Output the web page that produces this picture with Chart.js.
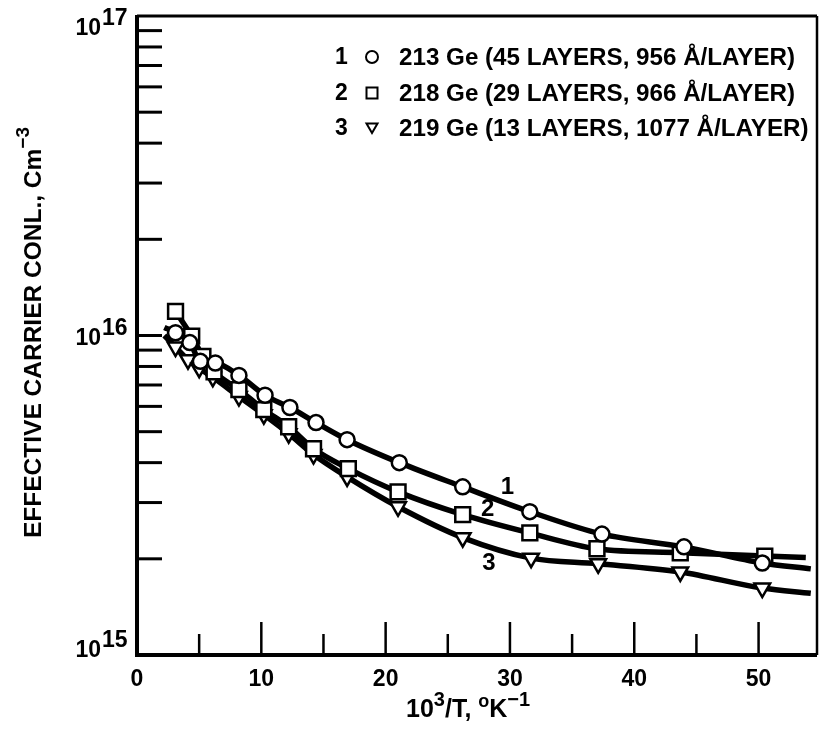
<!DOCTYPE html>
<html>
<head>
<meta charset="utf-8">
<script src="https://cdn.jsdelivr.net/npm/chart.js@4.4.1/dist/chart.umd.min.js"></script>
<style>
  html, body { margin: 0; padding: 0; background: #fff; }
  #wrap { position: relative; width: 830px; height: 736px; }
</style>
</head>
<body>
<div id="wrap"><canvas id="carrierChart" width="830" height="736"></canvas></div>
<script>
// 10^3/T (K^-1) and effective carrier concentration (cm^-3) per sample
const invT213 = [3.1, 4.25, 5.1, 6.3, 8.2, 10.3, 12.3, 14.4, 16.9, 21.1, 26.2, 31.6, 37.4, 44.0, 50.3];
const conc213 = [1.02e16, 9.5e15, 8.3e15, 8.2e15, 7.5e15, 6.5e15, 5.95e15, 5.34e15, 4.72e15, 4.0e15, 3.36e15, 2.81e15, 2.39e15, 2.18e15, 1.94e15];

const invT218 = [3.1, 4.4, 5.3, 6.2, 8.2, 10.2, 12.2, 14.2, 17.0, 21.0, 26.2, 31.6, 37.0, 43.7, 50.5];
const conc218 = [1.19e16, 9.95e15, 8.6e15, 7.7e15, 6.77e15, 5.86e15, 5.18e15, 4.42e15, 3.83e15, 3.24e15, 2.75e15, 2.41e15, 2.15e15, 2.09e15, 2.04e15];

const invT219 = [3.1, 4.1, 5.0, 6.1, 8.2, 10.2, 12.2, 14.2, 16.9, 21.0, 26.2, 31.7, 37.1, 43.7, 50.3];
const conc219 = [9.2e15, 8.4e15, 7.9e15, 7.4e15, 6.44e15, 5.65e15, 4.93e15, 4.24e15, 3.61e15, 2.91e15, 2.33e15, 2.01e15, 1.93e15, 1.82e15, 1.62e15];

// where each drawn curve begins and ends beyond the measured points
const curveEnds213 = [[2.2, 1.06e16], [54.2, 1.86e15]];
const curveEnds218 = [null, [53.8, 2.02e15]];
const curveEnds219 = [[2.2, 1.0e16], [54.2, 1.56e15]];

const sampleNames = [
  "213 Ge (45 LAYERS, 956 Å/LAYER)",
  "218 Ge (29 LAYERS, 966 Å/LAYER)",
  "219 Ge (13 LAYERS, 1077 Å/LAYER)",
];
const markerStyles = ["circle", "rect", "triangle"];

const xTicksMajor = [0, 10, 20, 30, 40, 50];
const xTicksMinor = [5, 15, 25, 35, 45];
const yDecades = [15, 16, 17];

// curve numbers written next to the lines (data units)
const curveTags = [
  { text: "1", x: 29.8, y: 3.34e15 },
  { text: "2", x: 28.2, y: 2.85e15 },
  { text: "3", x: 28.3, y: 1.94e15 },
];

const FONT = "'Liberation Sans', Arial, sans-serif";

function buildPoints(xs, ys, ends) {
  const pts = xs.map((x, i) => ({ x: x, y: ys[i] }));
  if (ends[0]) pts.unshift({ x: ends[0][0], y: ends[0][1], bare: true });
  if (ends[1]) pts.push({ x: ends[1][0], y: ends[1][1], bare: true });
  return pts;
}

function series(label, points, style) {
  return {
    label: label,
    data: points,
    borderColor: "#000",
    borderWidth: 5.5,
    cubicInterpolationMode: "monotone",
    pointStyle: style,
    pointRotation: style === "triangle" ? 180 : 0,
    pointRadius: (c) => (c.raw && c.raw.bare ? 0 : style === "rect" ? 10.5 : style === "triangle" ? 9 : 7.5),
    pointBackgroundColor: "#fff",
    pointBorderColor: "#000",
    pointBorderWidth: 2.5,
    showLine: true,
  };
}

function drawMarker(ctx, style, x, y, r) {
  ctx.save();
  ctx.lineWidth = 2;
  ctx.strokeStyle = "#000";
  ctx.fillStyle = "#fff";
  ctx.beginPath();
  if (style === "circle") {
    ctx.arc(x, y, r, 0, Math.PI * 2);
  } else if (style === "rect") {
    ctx.rect(x - r, y - r, 2 * r, 2 * r);
  } else {
    ctx.moveTo(x - r, y - r * 0.8);
    ctx.lineTo(x + r, y - r * 0.8);
    ctx.lineTo(x, y + r * 0.9);
    ctx.closePath();
  }
  ctx.fill();
  ctx.stroke();
  ctx.restore();
}

// axes frame, inward ticks, power-of-ten labels, titles and the key
const paperAxes = {
  id: "paperAxes",
  afterDraw(chart) {
    const ctx = chart.ctx;
    const xs = chart.scales.x;
    const ys = chart.scales.y;
    const a = chart.chartArea;
    ctx.save();
    ctx.strokeStyle = "#000";
    ctx.fillStyle = "#000";
    ctx.lineCap = "butt";

    // frame
    ctx.lineWidth = 4;
    ctx.beginPath();
    ctx.moveTo(a.left, a.top - 1);
    ctx.lineTo(a.left, a.bottom);
    ctx.lineTo(a.right, a.bottom);
    ctx.stroke();
    ctx.lineWidth = 3;
    ctx.beginPath();
    ctx.moveTo(a.left, a.top);
    ctx.lineTo(a.right, a.top);
    ctx.stroke();
    ctx.lineWidth = 2.5;
    ctx.beginPath();
    ctx.moveTo(a.right, a.top);
    ctx.lineTo(a.right, a.bottom);
    ctx.stroke();

    // y ticks: every mantissa 1..9 in each decade
    ctx.lineWidth = 3;
    for (let d = yDecades[0]; d < yDecades[yDecades.length - 1]; d++) {
      for (let m = 1; m <= 9; m++) {
        if (d === yDecades[0] && m === 1) continue;
        const py = ys.getPixelForValue(m * Math.pow(10, d));
        ctx.beginPath();
        ctx.moveTo(a.left, py);
        ctx.lineTo(a.left + 25, py);
        ctx.stroke();
      }
    }

    // x ticks
    ctx.lineWidth = 2.5;
    xTicksMajor.forEach((v) => {
      if (v === 0) return;
      const px = xs.getPixelForValue(v);
      ctx.beginPath();
      ctx.moveTo(px, a.bottom);
      ctx.lineTo(px, a.bottom - 33);
      ctx.stroke();
    });
    xTicksMinor.forEach((v) => {
      const px = xs.getPixelForValue(v);
      ctx.beginPath();
      ctx.moveTo(px, a.bottom);
      ctx.lineTo(px, a.bottom - 21);
      ctx.stroke();
    });

    // x tick labels
    ctx.font = "bold 23px " + FONT;
    ctx.textAlign = "center";
    ctx.textBaseline = "alphabetic";
    xTicksMajor.forEach((v) => {
      ctx.fillText(String(v), xs.getPixelForValue(v), a.bottom + 31);
    });

    // y tick labels 10^n
    const baseShift = { 15: 2, 16: 9, 17: 19 };
    yDecades.forEach((d) => {
      const py = ys.getPixelForValue(Math.pow(10, d));
      ctx.font = "bold 23px " + FONT;
      ctx.textAlign = "right";
      ctx.fillText("10", 101, py + baseShift[d]);
      ctx.textAlign = "left";
      ctx.fillText(String(d), 102, py + baseShift[d] - 10);
    });

    // x title: 10^3/T, °K^-1
    ctx.textAlign = "left";
    let tx = 406;
    const ty = 717;
    const put = (t, size, dy) => {
      ctx.font = "bold " + size + "px " + FONT;
      ctx.fillText(t, tx, ty + dy);
      tx += ctx.measureText(t).width;
    };
    put("10", 25, 0);
    put("3", 20, -11);
    put("/T, ", 25, 0);
    put("o", 18, -10);
    put("K", 25, 0);
    put("−1", 20, -11);

    // y title, rotated
    ctx.save();
    ctx.translate(41, 538);
    ctx.rotate(-Math.PI / 2);
    let yx = 0;
    const putY = (t, size, dy) => {
      ctx.font = "bold " + size + "px " + FONT;
      ctx.fillText(t, yx, dy);
      yx += ctx.measureText(t).width;
    };
    putY("EFFECTIVE CARRIER CONL., Cm", 24.5, 0);
    putY("−3", 19, -12);
    ctx.restore();

    // key
    const rows = [57, 93, 128];
    sampleNames.forEach((name, i) => {
      const ry = rows[i];
      ctx.font = "bold 23px " + FONT;
      ctx.textAlign = "left";
      ctx.textBaseline = "middle";
      ctx.fillText(String(i + 1), 335, ry + 1);
      drawMarker(ctx, markerStyles[i], 372, ry, markerStyles[i] === "circle" ? 6 : 5.5);
      ctx.font = "bold 24.2px " + FONT;
      ctx.fillText(name, 399, ry + 1);
    });

    // curve numbers
    ctx.font = "bold 24px " + FONT;
    ctx.textAlign = "center";
    ctx.textBaseline = "middle";
    curveTags.forEach((t) => {
      ctx.fillText(t.text, xs.getPixelForValue(t.x), ys.getPixelForValue(t.y));
    });

    ctx.restore();
  },
};

new Chart(document.getElementById("carrierChart"), {
  type: "line",
  data: {
    datasets: [
      series(sampleNames[0], buildPoints(invT213, conc213, curveEnds213), markerStyles[0]),
      series(sampleNames[1], buildPoints(invT218, conc218, curveEnds218), markerStyles[1]),
      series(sampleNames[2], buildPoints(invT219, conc219, curveEnds219), markerStyles[2]),
    ],
  },
  options: {
    responsive: false,
    animation: false,
    devicePixelRatio: 1,
    layout: { padding: { left: 137, top: 16, right: 2, bottom: 81 } },
    plugins: { legend: { display: false }, tooltip: { enabled: false } },
    scales: {
      x: { type: "linear", min: 0, max: 54.7, display: false },
      y: { type: "logarithmic", min: 1e15, max: 1e17, display: false },
    },
  },
  plugins: [paperAxes],
});
</script>
</body>
</html>
